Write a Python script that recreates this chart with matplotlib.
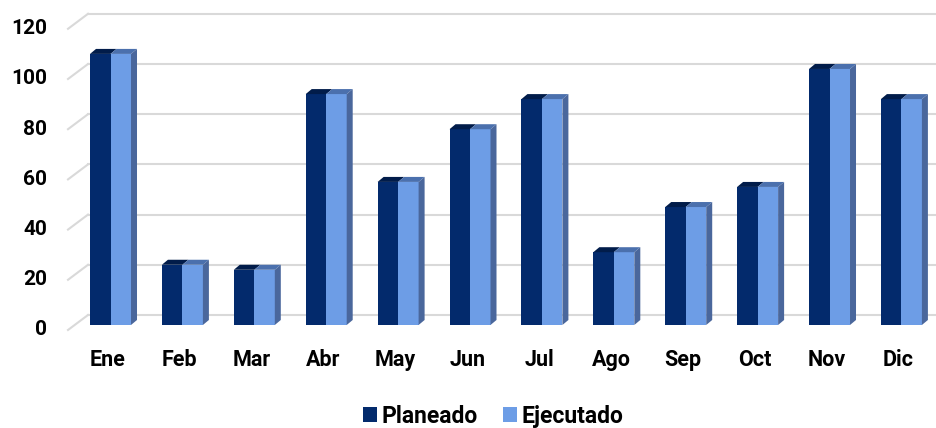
import matplotlib.pyplot as plt
from matplotlib.patches import Polygon, Patch

# Datos del grafico
meses = ['Ene', 'Feb', 'Mar', 'Abr', 'May', 'Jun', 'Jul', 'Ago', 'Sep', 'Oct', 'Nov', 'Dic']
planeado = [108, 24, 22, 92, 57, 78, 90, 29, 47, 55, 102, 90]
ejecutado = [108, 24, 22, 92, 57, 78, 90, 29, 47, 55, 102, 90]
ticks_y = [0, 20, 40, 60, 80, 100, 120]

# Colores (front, top, side)
c_plan = ('#032a6c', '#011c4a', '#02245c')
c_ejec = ('#6d9de6', '#4b70ad', '#4a679c')

plt.rcParams['font.family'] = ['Roboto', 'DejaVu Sans']

fig = plt.figure(figsize=(9.36, 4.28), dpi=100)
ax = fig.add_axes([0, 0, 1, 1])
ax.set_xlim(-1.537, 11.481)
ax.set_ylim(-41.04, 129.48)
ax.axis('off')

# profundidad 3D en unidades de datos
px_x = 71.9
px_y = 2.51
bar_dx, bar_dy = 6 / px_x, 5 / px_y
wall_dx, wall_dy = 20 / px_x, 15 / px_y   # del plano frontal a la pared
front_dy = -5 / px_y                        # plano frontal respecto a las barras
left_x = (68 - 110.5) / px_x
w = 0.285

# Cuadricula en la pared del fondo
for v in ticks_y:
    yf = v + front_dy
    yb = yf + wall_dy
    ax.plot([left_x, left_x + wall_dx], [yf, yb], color='#d9d9d9', lw=1.5, zorder=1)
    ax.plot([left_x + wall_dx, 11.481], [yb, yb], color='#d9d9d9', lw=1.5, zorder=1)
    ax.text((47 - 110.5) / px_x, yf, str(v), ha='right', va='center',
            fontsize=15, fontweight='bold', color='black')

def caja(x0, h, cols, lado=True):
    x1 = x0 + w
    ax.add_patch(Polygon([(x0, 0), (x1, 0), (x1, h), (x0, h)], closed=True,
                         fc=cols[0], ec='none', zorder=3))
    ax.add_patch(Polygon([(x0, h), (x1, h), (x1 + bar_dx, h + bar_dy), (x0 + bar_dx, h + bar_dy)],
                         closed=True, fc=cols[1], ec='none', zorder=3))
    if lado:
        ax.add_patch(Polygon([(x1, 0), (x1 + bar_dx, bar_dy), (x1 + bar_dx, h + bar_dy), (x1, h)],
                             closed=True, fc=cols[2], ec='none', zorder=3))

for i, mes in enumerate(meses):
    caja(i - w, planeado[i], c_plan, lado=False)
    caja(i, ejecutado[i], c_ejec)
    ax.text(i - 0.04, -14, mes, ha='center', va='center', fontsize=15.5,
            fontweight='bold', color='black')

handles = [Patch(fc=c_plan[0], ec='none', label='Planeado'),
           Patch(fc=c_ejec[0], ec='none', label='Ejecutado')]
leg = fig.legend(handles=handles, loc='center', bbox_to_anchor=(0.527, 0.028), ncol=2,
                 frameon=False, handlelength=0.6, handleheight=0.6, handletextpad=0.2,
                 columnspacing=1.1, prop={'size': 16.5, 'weight': 'bold'})

fig.savefig('out.png', dpi=100)
